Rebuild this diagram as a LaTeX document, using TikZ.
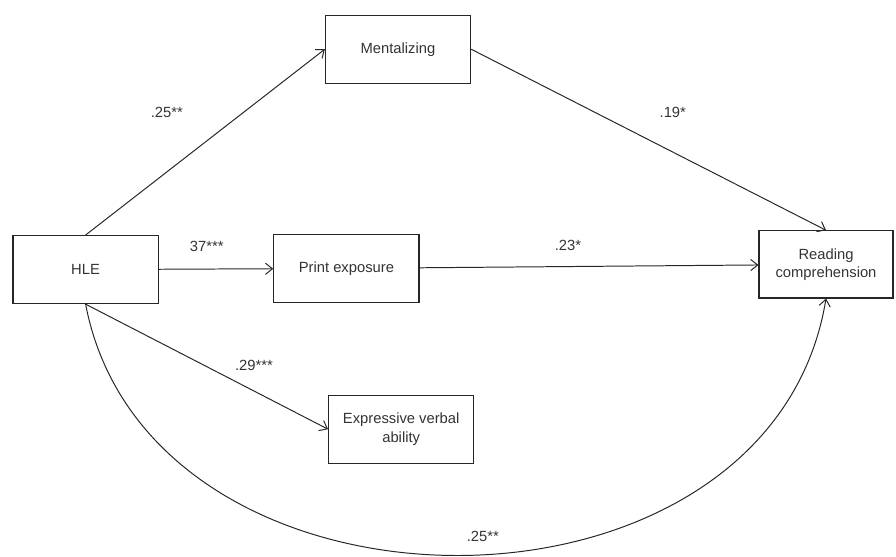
\documentclass[tikz,border=0pt]{standalone}
\usepackage{fontspec}
\setmainfont{Liberation Sans}
\usepackage{tikz}
\usetikzlibrary{arrows.meta}
\tikzset{
    every node/.style={font=\fontsize{10.5}{13}\selectfont, text=black!80},
    box/.style={rectangle, draw=black!85, line width=.8pt, align=center},
    wide/.style={minimum width=3.63cm, minimum height=1.7cm},
    coef/.style={inner sep=1pt},
    path/.style={-{Straight Barb[length=5pt, width=8pt]}, draw=black!85, line width=.7pt}
}

\begin{document}
\begin{tikzpicture}
  \useasboundingbox (0cm, 0cm) rectangle (22.4cm, 13.9cm);

  \node (hle) [box, wide] at (2.14cm, 7.16cm) {HLE};
  \node (ment) [box, wide] at (9.95cm, 12.67cm) {Mentalizing};
  \node (print) [box, wide] at (8.66cm, 7.19cm) {Print exposure};
  \node (read) [box, minimum width=3.35cm, minimum height=1.68cm] at (20.65cm, 7.29cm) {Reading\\comprehension};
  \node (verb) [box, wide] at (10.03cm, 3.17cm) {Expressive verbal\\ability};

  \node (c1) [coef] at (4.17cm, 11.1cm) {.25**};
  \node (c2) [coef] at (16.82cm, 11.1cm) {.19*};
  \node (c3) [coef] at (5.17cm, 7.75cm) {37***};
  \node (c4) [coef] at (14.2cm, 7.77cm) {.23*};
  \node (c5) [coef] at (6.35cm, 4.77cm) {.29***};
  \node (c6) [coef] at (12.07cm, 0.5cm) {.25**};

  \draw[path] (hle.north) -- (ment.west);
  \draw[path] (ment.east) -- (read.north);
  \draw[path] (hle) -- (print);
  \draw[path] (print) -- (read);
  \draw[path] (hle.south) -- (verb.west);
  \draw[path] (hle.south) .. controls (3.75cm, -2.1cm) and (19.25cm, -2.1cm) .. (read.south);

\end{tikzpicture}
\end{document}
